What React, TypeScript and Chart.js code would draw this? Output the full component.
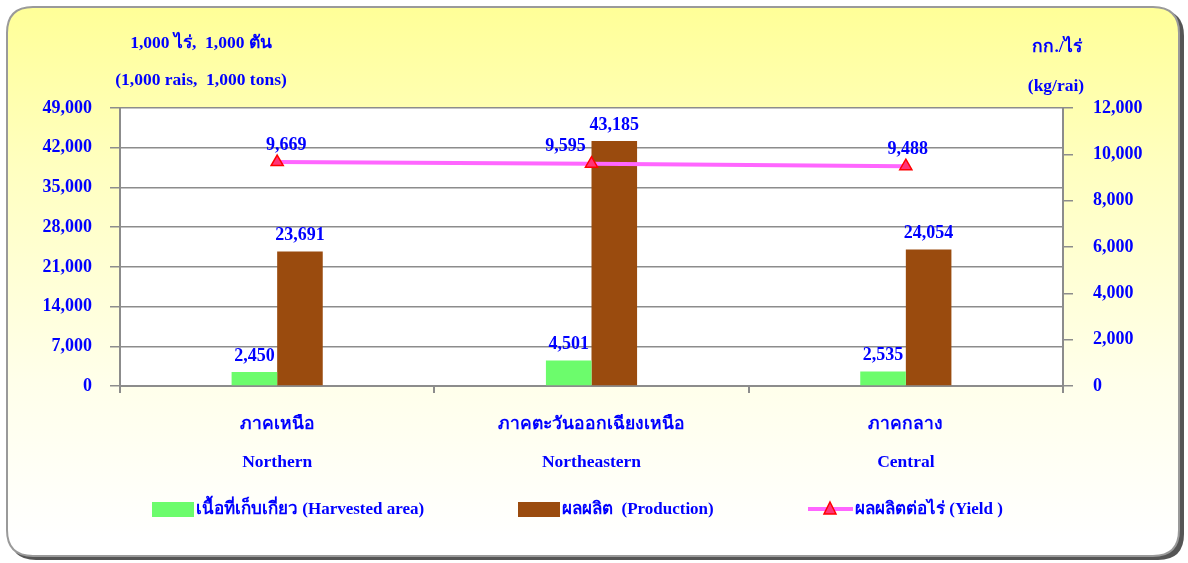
import React, { useEffect, useRef } from "react";
import { Chart, registerables } from "chart.js";

Chart.register(...registerables);

const categoriesThai = ["ภาคเหนือ", "ภาคตะวันออกเฉียงเหนือ", "ภาคกลาง"];
const categoriesEng = ["Northern", "Northeastern", "Central"];
const harvestedArea = [2450, 4501, 2535];
const production = [23691, 43185, 24054];
const yieldPerRai = [9669, 9595, 9488];

const leftTitle1 = "1,000 ไร่,  1,000 ตัน";
const leftTitle2 = "(1,000 rais,  1,000 tons)";
const rightTitle1 = "กก./ไร่";
const rightTitle2 = "(kg/rai)";
const legendArea = "เนื้อที่เก็บเกี่ยว (Harvested area)";
const legendProd = "ผลผลิต  (Production)";
const legendYield = "ผลผลิตต่อไร่ (Yield )";

const W = 1188;
const H = 563;
const BLUE = "#0000FF";
const FONT_FAMILY = '"Liberation Serif", "Times New Roman", "DejaVu Serif", serif';
const GREEN = "#6CFC6C";
const BROWN = "#9A4B0E";
const PINK = "#FF66FF";
const GRID = "#8C8C8C";
const yieldLabelDx = [9, -26, 2];

const fmt = (v: number) => v.toLocaleString("en-US");

function roundRect(ctx: CanvasRenderingContext2D, x: number, y: number, w: number, h: number, r: number) {
  ctx.beginPath();
  ctx.moveTo(x + r, y);
  ctx.lineTo(x + w - r, y);
  ctx.quadraticCurveTo(x + w, y, x + w, y + r);
  ctx.lineTo(x + w, y + h - r);
  ctx.quadraticCurveTo(x + w, y + h, x + w - r, y + h);
  ctx.lineTo(x + r, y + h);
  ctx.quadraticCurveTo(x, y + h, x, y + h - r);
  ctx.lineTo(x, y + r);
  ctx.quadraticCurveTo(x, y, x + r, y);
  ctx.closePath();
}

const decorPlugin = {
  id: "decor",
  beforeDraw(chart: any) {
    const ctx: CanvasRenderingContext2D = chart.ctx;
    const ca = chart.chartArea;
    ctx.save();
    ctx.fillStyle = "#ffffff";
    ctx.fillRect(0, 0, W, H);
    // shadow frame
    roundRect(ctx, 10, 10, 1174, 550, 26);
    ctx.fillStyle = "#555555";
    ctx.fill();
    const g = ctx.createLinearGradient(0, 8, 0, 540);
    g.addColorStop(0, "#FFFF98");
    g.addColorStop(0.3, "#FFFFC0");
    g.addColorStop(0.7, "#FFFFEA");
    g.addColorStop(1, "#FFFFFF");
    roundRect(ctx, 7, 7, 1172, 549, 26);
    ctx.fillStyle = g;
    ctx.fill();
    ctx.lineWidth = 2;
    ctx.strokeStyle = "#9A9A9A";
    ctx.stroke();
    // plot area
    ctx.fillStyle = "#FFFFFF";
    ctx.fillRect(ca.left, ca.top, ca.right - ca.left, ca.bottom - ca.top);

    // titles
    ctx.fillStyle = BLUE;
    ctx.font = `bold 17.5px ${FONT_FAMILY}`;
    ctx.textAlign = "center";
    ctx.textBaseline = "middle";
    ctx.fillText(leftTitle1, 201, 43);
    ctx.fillText(leftTitle2, 201, 80);
    ctx.fillText(rightTitle1, 1057, 47);
    ctx.fillText(rightTitle2, 1056, 86);

    // legend
    ctx.textAlign = "left";
    ctx.fillStyle = GREEN;
    ctx.fillRect(152, 502, 42, 15);
    ctx.fillStyle = BROWN;
    ctx.fillRect(518, 502, 42, 15);
    ctx.strokeStyle = PINK;
    ctx.lineWidth = 4;
    ctx.beginPath();
    ctx.moveTo(808, 509);
    ctx.lineTo(853, 509);
    ctx.stroke();
    ctx.beginPath();
    ctx.moveTo(830, 502);
    ctx.lineTo(836, 514);
    ctx.lineTo(824, 514);
    ctx.closePath();
    ctx.fillStyle = "#FF3377";
    ctx.fill();
    ctx.strokeStyle = "#FF0000";
    ctx.lineWidth = 1.5;
    ctx.stroke();
    ctx.fillStyle = BLUE;
    ctx.font = `bold 17px ${FONT_FAMILY}`;
    ctx.fillText(legendArea, 196, 510);
    ctx.fillText(legendProd, 562, 510);
    ctx.fillText(legendYield, 855, 510);
    ctx.restore();
  },
  afterDatasetsDraw(chart: any) {
    const ctx: CanvasRenderingContext2D = chart.ctx;
    ctx.save();
    ctx.fillStyle = BLUE;
    ctx.font = `bold 18px ${FONT_FAMILY}`;
    ctx.textAlign = "center";
    ctx.textBaseline = "middle";
    [0, 1].forEach((di) => {
      const meta = chart.getDatasetMeta(di);
      const vals = di === 0 ? harvestedArea : production;
      meta.data.forEach((el: any, i: number) => {
        ctx.fillText(fmt(vals[i]), el.x, el.y - 16);
      });
    });
    const lm = chart.getDatasetMeta(2);
    lm.data.forEach((el: any, i: number) => {
      ctx.fillText(fmt(yieldPerRai[i]), el.x + yieldLabelDx[i], el.y - 17);
    });
    ctx.restore();
  },
};

export default function App() {
  const ref = useRef<HTMLCanvasElement | null>(null);
  useEffect(() => {
    if (!ref.current) return;
    const tickFont = { family: FONT_FAMILY, size: 18, weight: "bold" as const };
    const chart = new Chart(ref.current, {
      type: "bar",
      data: {
        labels: categoriesThai.map((t, i) => [t, categoriesEng[i]]),
        datasets: [
          {
            type: "bar",
            label: legendArea,
            data: harvestedArea,
            backgroundColor: GREEN,
            yAxisID: "y",
            order: 2,
            categoryPercentage: 0.29,
            barPercentage: 1.0,
          },
          {
            type: "bar",
            label: legendProd,
            data: production,
            backgroundColor: BROWN,
            yAxisID: "y",
            order: 2,
            categoryPercentage: 0.29,
            barPercentage: 1.0,
          },
          {
            type: "line",
            label: legendYield,
            data: yieldPerRai,
            borderColor: PINK,
            borderWidth: 4,
            pointStyle: "triangle",
            pointRadius: 7,
            pointBackgroundColor: "#FF3377",
            pointBorderColor: "#FF0000",
            pointBorderWidth: 1.5,
            yAxisID: "y1",
            order: 0,
          } as any,
        ],
      },
      options: {
        responsive: false,
        animation: false,
        layout: { padding: { left: 0, right: 0, top: 108, bottom: 0 } },
        plugins: {
          legend: { display: false },
          tooltip: { enabled: false },
          title: { display: false },
        },
        scales: {
          x: {
            offset: true,
            grid: {
              offset: true,
              drawOnChartArea: false,
              tickLength: 7,
              color: GRID,
              lineWidth: 2,
            },
            border: { color: GRID, width: 2 },
            ticks: {
              color: BLUE,
              padding: 12,
              font: { family: FONT_FAMILY, size: 17.5, weight: "bold", lineHeight: "38px" } as any,
              maxRotation: 0,
            },
            afterFit(s: any) {
              s.height = 177;
            },
          },
          y: {
            position: "left",
            min: 0,
            max: 49000,
            grid: { color: GRID, lineWidth: 1.5, tickLength: 10 },
            border: { color: GRID, width: 2 },
            ticks: {
              stepSize: 7000,
              color: BLUE,
              padding: 18,
              font: tickFont,
              callback: (v: any) => fmt(Number(v)),
            },
            afterFit(s: any) {
              s.width = 120;
            },
          },
          y1: {
            position: "right",
            min: 0,
            max: 12000,
            grid: { drawOnChartArea: false, color: GRID, lineWidth: 1.5, tickLength: 10 },
            border: { color: GRID, width: 2 },
            ticks: {
              stepSize: 2000,
              color: BLUE,
              padding: 20,
              font: tickFont,
              callback: (v: any) => fmt(Number(v)),
            },
            afterFit(s: any) {
              s.width = 125;
            },
          },
        },
      },
      plugins: [decorPlugin],
    });
    return () => chart.destroy();
  }, []);
  return (
    <div style={{ position: "absolute", left: 0, top: 0, width: W, height: H }}>
      <canvas ref={ref} width={W} height={H} style={{ width: W, height: H, display: "block" }} />
    </div>
  );
}
